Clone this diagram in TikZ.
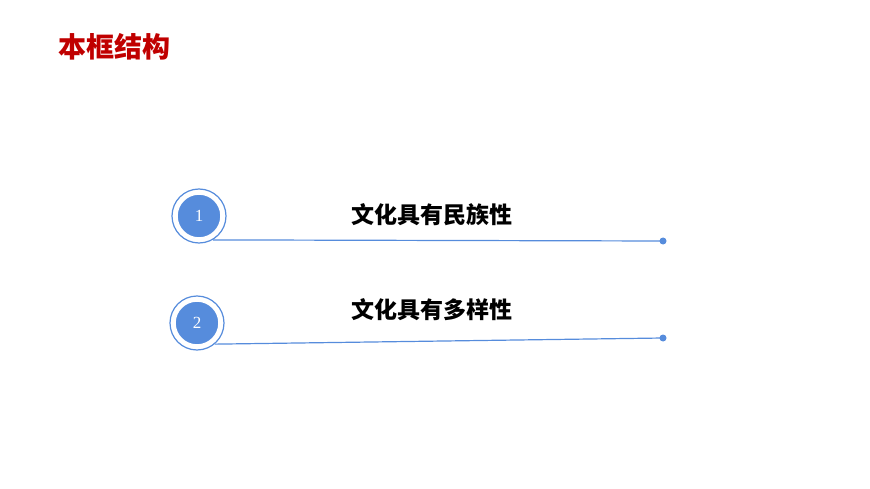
\documentclass[tikz,border=0pt]{standalone}
\usepackage{fontspec}
\newfontfamily\cjk{Noto Sans CJK SC}
\setmainfont{Liberation Serif}
\definecolor{itemblue}{RGB}{86,140,220}
\definecolor{titlered}{RGB}{192,0,0}
\begin{document}
\begin{tikzpicture}[x=1pt,y=-1pt,
  num node/.style={circle,fill=itemblue,draw=white,line width=1.5pt,minimum size=44pt,inner sep=0pt,text=white,font=\fontsize{17}{17}\selectfont},
  ring/.style={circle,draw=itemblue,line width=1.2pt,minimum size=54pt,fill=white},
  item text/.style={font=\cjk\bfseries\fontsize{23}{23}\selectfont}]
\useasboundingbox (0,0) rectangle (870,489);

\node[font=\cjk\bfseries\fontsize{28}{28}\selectfont,text=titlered] (title) at (114,47) {本框结构};

% item 1
\node[ring] (ring1) at (199,216) {};
\node[num node] (num1) at (199,216) {1};
\coordinate (end1) at (663,241);
\draw[itemblue,line width=1.2pt] (ring1.-60) -- (end1);
\fill[itemblue] (end1) circle (3.5);
\node[item text] (text1) at (432,215) {文化具有民族性};

% item 2
\node[ring] (ring2) at (197,323) {};
\node[num node] (num2) at (197,323) {2};
\coordinate (end2) at (663,338);
\draw[itemblue,line width=1.2pt] (ring2.-50) -- (end2);
\fill[itemblue] (end2) circle (3.5);
\node[item text] (text2) at (432,310) {文化具有多样性};
\end{tikzpicture}
\end{document}
